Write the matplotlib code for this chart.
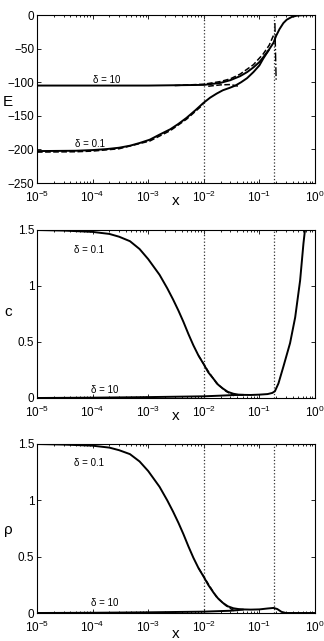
import matplotlib
matplotlib.use("Agg")
import matplotlib.pyplot as plt
from matplotlib.ticker import LogLocator, NullFormatter

plt.rcParams['font.family'] = ['Liberation Sans', 'DejaVu Sans']
plt.rcParams['mathtext.fontset'] = 'custom'
plt.rcParams['mathtext.rm'] = 'Liberation Sans'
plt.rcParams['mathtext.it'] = 'Liberation Sans'

# ---------------- data ----------------
vlines_x = [0.01, 0.18]

# Panel E
E_d10_x = [1e-5, 1e-4, 1e-3, 1e-2, 2e-2, 3e-2, 4.5e-2, 6e-2, 7.8e-2, 0.1, 0.117, 0.145, 0.18, 0.2, 0.23, 0.27, 0.31, 0.38, 0.47, 0.6, 1.0]
E_d10_y = [-105, -105, -105, -104, -101, -97, -91, -85, -78, -70, -63, -53, -41, -31, -21, -12, -7, -3, -1, -0.3, 0]
E_d01_x = [1e-5, 5e-5, 1e-4, 1.8e-4, 3e-4, 4.7e-4, 7e-4, 1.07e-3, 1.6e-3, 2.5e-3, 3.5e-3, 4.9e-3, 7e-3, 9.8e-3, 1.3e-2, 1.7e-2, 2.2e-2, 2.9e-2, 3.7e-2, 4.7e-2, 6e-2, 7.8e-2, 0.1, 0.117, 0.145]
E_d01_y = [-202.5, -202, -201, -199.5, -197.5, -194.5, -190.5, -185.5, -178, -170, -162, -153, -142, -131, -123, -117, -112, -108.5, -105, -100, -94, -85, -75, -65, -53]
E_d10_dash_x = [3e-3, 1e-2, 2e-2, 3e-2, 4.5e-2, 7.8e-2, 0.117, 0.15, 0.18]
E_d10_dash_y = [-105, -103, -99, -95, -88, -74, -58, -45, -30]
E_d10_dash2_x = [1.2e-2, 2e-2, 3e-2, 4.5e-2]
E_d10_dash2_y = [-106, -104, -103.5, -106.5]
E_d01_dash_x = [1e-5, 5e-5, 1e-4, 3e-4, 1.07e-3, 2.5e-3, 4.9e-3, 9.8e-3]
E_d01_dash_y = [-204, -203.5, -202.5, -199, -187.5, -172, -155, -133]
E_vert_dash_x = [0.19, 0.2]
E_vert_dash_y = [-12, -97]
E_lab = [("δ = 10", 1e-4, -96.5), ("δ = 0.1", 4.8e-5, -192)]

# Panel c
c_d01_x = [1e-5, 3e-5, 1e-4, 2e-4, 3e-4, 4.7e-4, 7e-4, 1e-3, 1.6e-3, 2.2e-3, 2.8e-3, 3.5e-3, 4.3e-3, 5.3e-3, 6.5e-3, 8e-3, 1e-2, 1.2e-2, 1.5e-2, 1.8e-2, 2.2e-2, 2.7e-2, 3.4e-2, 4.2e-2, 5e-2, 7e-2, 0.1, 0.14, 0.17, 0.19, 0.22, 0.27, 0.356, 0.44, 0.54, 0.62, 0.66]
c_d01_y = [1.5, 1.495, 1.483, 1.465, 1.44, 1.4, 1.33, 1.24, 1.1, 0.98, 0.88, 0.78, 0.68, 0.57, 0.47, 0.38, 0.3, 0.23, 0.17, 0.12, 0.085, 0.055, 0.038, 0.03, 0.028, 0.027, 0.03, 0.035, 0.045, 0.06, 0.13, 0.28, 0.49, 0.72, 1.05, 1.38, 1.5]
c_d10_x = [1e-5, 1e-4, 1e-3, 1e-2, 2e-2, 3e-2, 4e-2, 5e-2]
c_d10_y = [0.0, 0.003, 0.008, 0.015, 0.021, 0.025, 0.027, 0.028]
c_dash_x = [8e-3, 1.2e-2, 1.7e-2, 2.5e-2, 3.5e-2]
c_dash_y = [0.38, 0.24, 0.13, 0.06, 0.02]
c_lab = [("δ = 0.1", 4.7e-5, 1.32), ("δ = 10", 9.3e-5, 0.071)]

# Panel rho
r_d01_x = [1e-5, 3e-5, 1e-4, 2e-4, 3e-4, 4.7e-4, 7e-4, 1e-3, 1.6e-3, 2.2e-3, 2.8e-3, 3.5e-3, 4.3e-3, 5.3e-3, 6.5e-3, 8e-3, 1e-2, 1.2e-2, 1.5e-2, 1.8e-2, 2.2e-2, 2.7e-2, 3.4e-2, 4.2e-2, 5e-2, 7e-2, 0.1, 0.14, 0.18, 0.21, 0.25, 0.3, 1.0]
r_d01_y = [1.5, 1.495, 1.485, 1.468, 1.445, 1.41, 1.345, 1.26, 1.12, 1.0, 0.9, 0.8, 0.7, 0.59, 0.49, 0.4, 0.32, 0.25, 0.18, 0.13, 0.09, 0.06, 0.042, 0.035, 0.032, 0.03, 0.032, 0.04, 0.045, 0.035, 0.01, 0.0, 0.0]
r_d10_x = [1e-5, 1e-4, 1e-3, 1e-2, 3e-2, 4e-2, 5e-2]
r_d10_y = [0.0, 0.002, 0.006, 0.012, 0.02, 0.025, 0.03]
r_dash_x = [8e-3, 1.2e-2, 1.7e-2, 2.5e-2, 3.5e-2]
r_dash_y = [0.40, 0.26, 0.14, 0.065, 0.02]
r_lab = [("δ = 0.1", 4.7e-5, 1.33), ("δ = 10", 9.3e-5, 0.086)]

xticks = [1e-5, 1e-4, 1e-3, 1e-2, 1e-1, 1e0]
xticklabels = [r'$10^{-5}$', r'$10^{-4}$', r'$10^{-3}$', r'$10^{-2}$', r'$10^{-1}$', r'$10^{0}$']

# ---------------- figure ----------------
W, H = 324, 641
fig = plt.figure(figsize=(W / 100, H / 100), dpi=100)

def pos(top, bottom, left=37, right=315):
    return [left / W, 1 - bottom / H, (right - left) / W, (bottom - top) / H]

ax1 = fig.add_axes(pos(15, 183))
ax2 = fig.add_axes(pos(230, 398))
ax3 = fig.add_axes(pos(444, 613))

def style(ax, ylim, yticks, yticklabels):
    ax.set_xscale('log')
    ax.set_xlim(1e-5, 1)
    ax.set_ylim(*ylim)
    ax.set_xticks(xticks)
    ax.set_xticklabels(xticklabels, fontsize=8.5)
    ax.xaxis.set_minor_locator(LogLocator(base=10, subs=range(2, 10), numticks=20))
    ax.xaxis.set_minor_formatter(NullFormatter())
    ax.set_yticks(yticks)
    ax.set_yticklabels(yticklabels, fontsize=8.5)
    ax.tick_params(which='both', direction='in', top=True, right=True, width=0.6)
    ax.tick_params(which='major', length=3)
    ax.tick_params(axis='x', which='major', pad=5)
    ax.tick_params(axis='y', which='major', pad=2)
    ax.tick_params(which='minor', length=1.5)
    for s in ax.spines.values():
        s.set_linewidth(0.8)
    for v in vlines_x:
        ax.axvline(v, color='#333333', linestyle=':', linewidth=0.9)

# axis labels positioned in figure pixels
def ftext(px, py, s, **kw):
    fig.text(px / W, 1 - py / H, s, ha='center', va='center', **kw)

# Panel 1
style(ax1, (-250, 0), [-250, -200, -150, -100, -50, 0],
      ['−250', '−200', '−150', '−100', '−50', '0'])
ax1.plot(E_d10_x, E_d10_y, color='black', lw=1.4)
ax1.plot(E_d01_x, E_d01_y, color='black', lw=1.4)
ax1.plot(E_d10_dash_x, E_d10_dash_y, color='black', lw=1.1, ls='--')
ax1.plot(E_d10_dash2_x, E_d10_dash2_y, color='black', lw=1.1, ls='--')
ax1.plot(E_d01_dash_x, E_d01_dash_y, color='black', lw=1.1, ls='--')
ax1.plot(E_vert_dash_x, E_vert_dash_y, color='black', lw=1.0, ls='-.')
for t, x, y in E_lab:
    ax1.text(x, y, t, fontsize=7, ha='left', va='center')
ftext(8, 102, 'E', fontsize=11)
ftext(176, 201, 'x', fontsize=11)

# Panel 2
style(ax2, (0, 1.5), [0, 0.5, 1, 1.5], ['0', '0.5', '1', '1.5'])
ax2.plot(c_d01_x, c_d01_y, color='black', lw=1.4)
ax2.plot(c_d10_x, c_d10_y, color='black', lw=1.4)
ax2.plot(c_dash_x, c_dash_y, color='black', lw=1.0, ls='--')
for t, x, y in c_lab:
    ax2.text(x, y, t, fontsize=7, ha='left', va='center')
ftext(8, 312, 'c', fontsize=11)
ftext(176, 416, 'x', fontsize=11)

# Panel 3
style(ax3, (0, 1.5), [0, 0.5, 1, 1.5], ['0', '0.5', '1', '1.5'])
ax3.plot(r_d01_x, r_d01_y, color='black', lw=1.4)
ax3.plot(r_d10_x, r_d10_y, color='black', lw=1.4)
ax3.plot(r_dash_x, r_dash_y, color='black', lw=1.0, ls='--')
for t, x, y in r_lab:
    ax3.text(x, y, t, fontsize=7, ha='left', va='center')
ftext(8, 530, 'ρ', fontsize=11)
ftext(176, 634, 'x', fontsize=11)

fig.savefig('out.png', dpi=100)
